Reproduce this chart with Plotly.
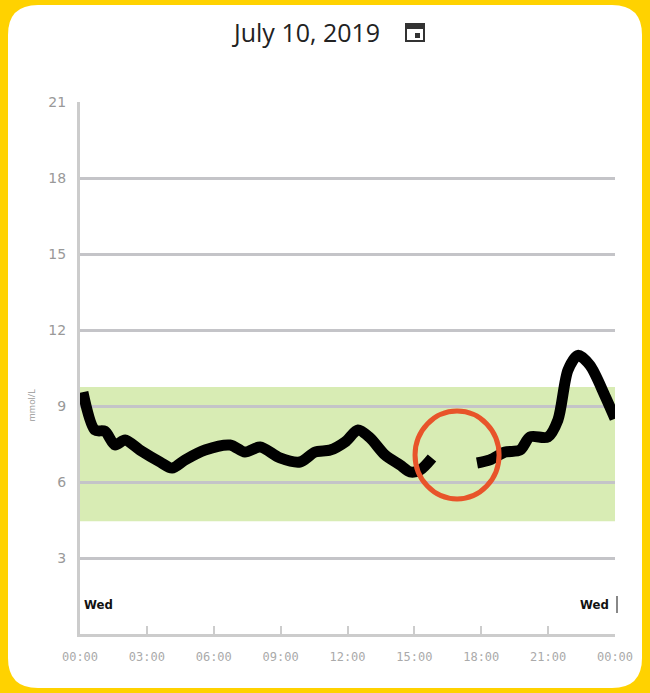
import plotly.graph_objects as go

# glucose trace (hours since midnight, mmol/L); None marks the sensor gap
hours = [0.13, 0.67, 1.12, 1.57, 2.02, 2.69, 3.59, 4.13, 4.71, 5.61, 6.73, 7.40, 8.08,
         8.97, 9.87, 10.54, 11.22, 11.89, 12.47, 13.01, 13.68, 14.36, 14.80, 15.25, 15.79,
         16.8,
         17.81, 18.39, 19.07, 19.74, 20.19, 20.99, 21.44, 21.89, 22.34, 22.88, 23.55, 24.0]
glucose = [9.55, 8.05, 8.0, 7.46, 7.66, 7.26, 6.79, 6.55, 6.87, 7.26, 7.46, 7.18, 7.38,
           6.95, 6.79, 7.18, 7.26, 7.58, 8.05, 7.74, 7.07, 6.67, 6.40, 6.47, 6.95,
           None,
           6.75, 6.87, 7.18, 7.26, 7.78, 7.78, 8.45, 10.42, 11.0, 10.6, 9.4, 8.5]
target_low, target_high = 4.45, 9.75
y_ticks = [3, 6, 9, 12, 15, 18, 21]
x_ticks = [0, 3, 6, 9, 12, 15, 18, 21, 24]
x_labels = ["00:00", "03:00", "06:00", "09:00", "12:00", "15:00", "18:00", "21:00", "00:00"]

W, H = 650, 693
L, R, T, B = 80, 35, 102, 59
def px(x): return (x - L) / (W - L - R)
def py(y): return (H - B - y) / (H - T - B)

fig = go.Figure()
fig.add_trace(go.Scatter(x=hours, y=glucose, mode="lines", connectgaps=False,
                         line=dict(color="black", width=11, shape="spline", smoothing=0.8),
                         hoverinfo="skip"))

# rounded white card on yellow background
x0, x1, y0, y1, r = 8, 642, 5, 688, 30
card = (f"M {px(x0+r)},{py(y0)} L {px(x1-r)},{py(y0)} Q {px(x1)},{py(y0)} {px(x1)},{py(y0+r)} "
        f"L {px(x1)},{py(y1-r)} Q {px(x1)},{py(y1)} {px(x1-r)},{py(y1)} "
        f"L {px(x0+r)},{py(y1)} Q {px(x0)},{py(y1)} {px(x0)},{py(y1-r)} "
        f"L {px(x0)},{py(y0+r)} Q {px(x0)},{py(y0)} {px(x0+r)},{py(y0)} Z")
shapes = [
    dict(type="path", path=card, xref="paper", yref="paper", fillcolor="white",
         line=dict(width=0), layer="below"),
    dict(type="rect", xref="paper", yref="y", x0=0, x1=1, y0=target_low, y1=target_high,
         fillcolor="#d8ecb4", line=dict(width=0), layer="below"),
    dict(type="circle", xref="x", yref="y", x0=15.03, x1=18.8, y0=5.33, y1=8.8,
         line=dict(color="#e8542a", width=5)),
    # calendar icon
    dict(type="rect", xref="paper", yref="paper", x0=px(406), x1=px(424), y0=py(41), y1=py(24),
         line=dict(color="#333", width=2)),
    dict(type="rect", xref="paper", yref="paper", x0=px(406), x1=px(424), y0=py(29), y1=py(24),
         fillcolor="#333", line=dict(width=0)),
    dict(type="rect", xref="paper", yref="paper", x0=px(415), x1=px(420), y0=py(38), y1=py(33),
         fillcolor="#333", line=dict(width=0)),
    dict(type="line", xref="paper", yref="paper", x0=px(617), x1=px(617), y0=py(596), y1=py(613),
         line=dict(color="#888", width=2)),
]

annotations = [
    dict(text="July 10, 2019", x=px(306), y=py(32), xref="paper", yref="paper", showarrow=False,
         yanchor="middle", font=dict(size=25, color="#222", family="Open Sans")),
    dict(text="mmol/L", x=px(22), y=py(405), xref="paper", yref="paper", showarrow=False,
         textangle=-90, font=dict(size=9, color="#999")),
    dict(text="<b>Wed</b>", x=px(82), y=py(604), xref="paper", yref="paper", showarrow=False,
         xanchor="left", yanchor="middle",
         font=dict(size=13, color="#111", family="DejaVu Sans Condensed")),
    dict(text="<b>Wed</b>", x=px(611), y=py(604), xref="paper", yref="paper", showarrow=False,
         xanchor="right", yanchor="middle",
         font=dict(size=13, color="#111", family="DejaVu Sans Condensed")),
]

fig.update_layout(
    width=W, height=H, margin=dict(l=L, r=R, t=T, b=B),
    paper_bgcolor="#ffd200", plot_bgcolor="rgba(0,0,0,0)", showlegend=False,
    shapes=shapes, annotations=annotations,
)
fig.update_xaxes(range=[0, 24], tickvals=x_ticks, ticktext=x_labels, showgrid=False,
                 zeroline=False, showline=True, linecolor="#ccc", linewidth=3,
                 ticks="inside", ticklen=8, tickcolor="#ccc", tickwidth=2,
                 ticklabelstandoff=10,
                 tickfont=dict(family="DejaVu Sans Mono", size=12, color="#aaa"))
fig.update_yaxes(range=[0, 21], tickvals=y_ticks, showgrid=True, gridcolor="#c4c4c8",
                 gridwidth=2.5, zeroline=False, showline=True, linecolor="#ccc", linewidth=3,
                 ticks="", ticklabelstandoff=8,
                 tickfont=dict(family="DejaVu Sans", size=14, color="#999"))

fig.write_html("out.html", config={"displayModeBar": False},
               post_script="document.body.style.margin='0';")
